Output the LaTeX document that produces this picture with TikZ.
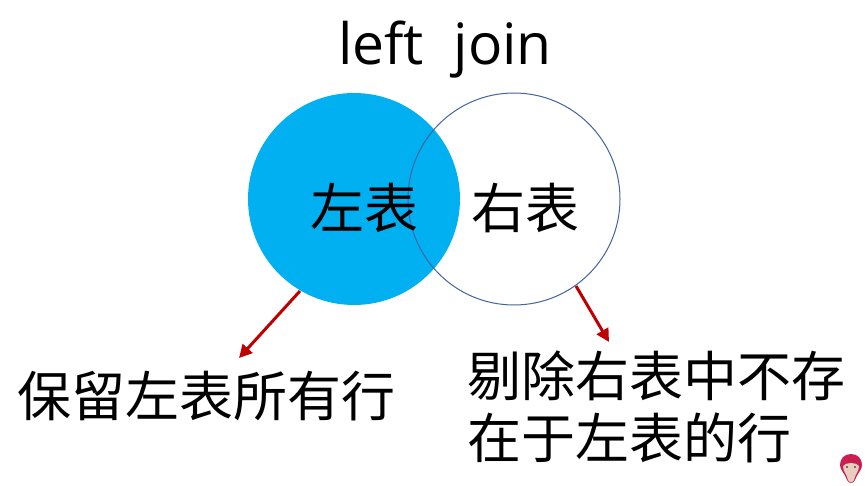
\documentclass[tikz,border=0pt]{standalone}
\usepackage{fontspec}
\setmainfont{Open Sans}
\newfontfamily\cjk{Noto Sans CJK SC}
\usetikzlibrary{arrows.meta}
\definecolor{lblue}{RGB}{0,176,240}
\definecolor{ringc}{RGB}{68,100,160}
\definecolor{dred}{RGB}{192,0,0}
\definecolor{monkey}{RGB}{200,30,80}
\definecolor{skin}{RGB}{235,205,190}
\tikzset{
 lbl/.style={inner sep=0pt,font=\cjk\fontsize{54}{60}\selectfont,text=black,anchor=center},
 pointer/.style={draw=dred,line width=3pt,-{Triangle[length=13pt,width=13pt,fill=dred]}}
}
\begin{document}
\begin{tikzpicture}[x=1pt,y=-1pt]
\useasboundingbox (0,0) rectangle (865,486);
\fill[white] (0,0) rectangle (865,486);
\node[circle,fill=lblue,minimum size=212pt,inner sep=0pt] (L) at (354,199) {};
\node[circle,draw=ringc,line width=1pt,minimum size=212pt,inner sep=0pt] (R) at (514,199) {};
\node[inner sep=0pt,font=\fontsize{57}{60}\selectfont] (T) at (445,50) {left\ \ join};
\node[lbl] (a) at (364,208) {左表};
\node[lbl] (b) at (525,208) {右表};
\node[lbl] (c) at (206,396) {保留左表所有行};
\node[lbl] (d) at (656,376) {剔除右表中不存};
\node[lbl] (e) at (629,438) {在于左表的行};
\coordinate (p1) at (300,291);
\coordinate (p2) at (239,358);
\coordinate (p3) at (576,286);
\coordinate (p4) at (609,342);
\draw[pointer] (p1) -- (p2);
\draw[pointer] (p3) -- (p4);
% monkey icon
\fill[monkey] (851,454) .. controls (858,454) and (862,459) .. (862,465) .. controls (862,470) and (858,472) .. (855,480) .. controls (853,484) and (849,484) .. (847,480) .. controls (844,472) and (840,470) .. (840,465) .. controls (840,459) and (844,454) .. (851,454) -- cycle;
\fill[skin] (843,466) .. controls (846,462) and (856,462) .. (859,466) .. controls (859,472) and (855,474) .. (854,480) .. controls (852,483) and (850,483) .. (848,480) .. controls (847,474) and (843,472) .. (843,466) -- cycle;
\fill[black!70] (847,467) circle (1.2pt) (855,467) circle (1.2pt);
\end{tikzpicture}
\end{document}
